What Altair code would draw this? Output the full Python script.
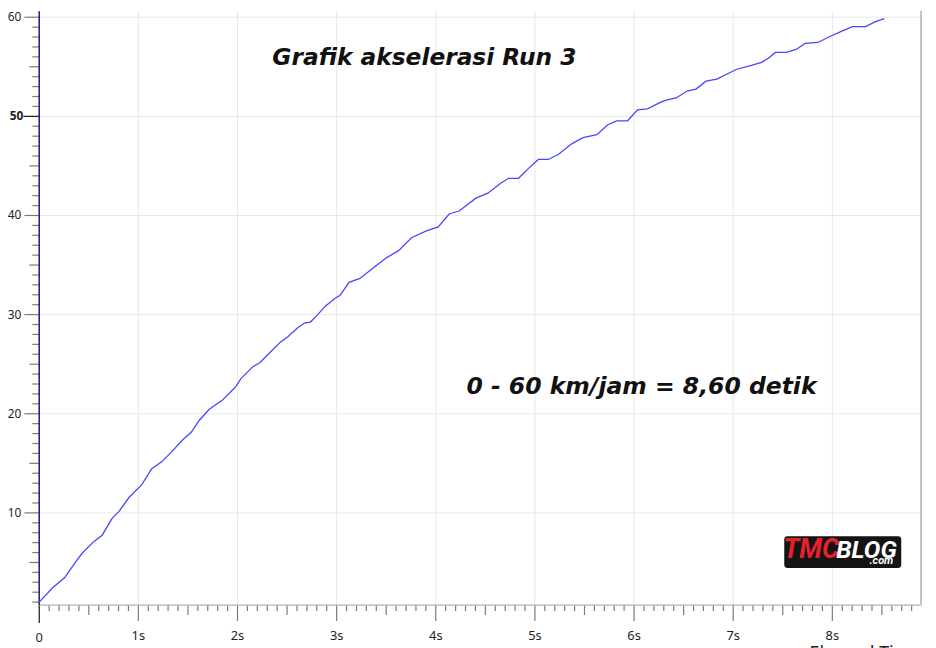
import altair as alt
import pandas as pd

# ---- data ----
t_sec = [0, 0.14, 0.26, 0.38, 0.44, 0.56, 0.64, 0.74, 0.81, 0.91, 1.04, 1.14, 1.24, 1.34, 1.44,
         1.54, 1.62, 1.72, 1.85, 1.98, 2.04, 2.16, 2.23, 2.34, 2.44, 2.51, 2.61, 2.68, 2.74, 2.81,
         2.89, 2.99, 3.04, 3.13, 3.24, 3.38, 3.51, 3.63, 3.76, 3.91, 4.03, 4.14, 4.24, 4.41, 4.53,
         4.66, 4.74, 4.84, 4.93, 5.04, 5.14, 5.24, 5.38, 5.49, 5.63, 5.74, 5.83, 5.94, 6.04, 6.14,
         6.28, 6.34, 6.43, 6.54, 6.63, 6.73, 6.84, 6.98, 7.04, 7.19, 7.29, 7.36, 7.43, 7.54, 7.64,
         7.73, 7.86, 7.98, 8.09, 8.21, 8.34, 8.44, 8.53]
speed_kmh = [0.9, 2.4, 3.4, 5.1, 5.9, 7.1, 7.7, 9.4, 10.1, 11.5, 12.8, 14.4, 15.1, 16.1, 17.2,
             18.1, 19.3, 20.4, 21.3, 22.6, 23.5, 24.7, 25.1, 26.2, 27.2, 27.7, 28.6, 29.1, 29.2, 29.9,
             30.8, 31.6, 31.9, 33.2, 33.6, 34.7, 35.7, 36.4, 37.7, 38.4, 38.8, 40.1, 40.4, 41.7, 42.2,
             43.2, 43.7, 43.7, 44.6, 45.6, 45.6, 46.1, 47.2, 47.8, 48.1, 49.1, 49.5, 49.5, 50.6, 50.7,
             51.4, 51.6, 51.8, 52.5, 52.7, 53.5, 53.7, 54.4, 54.7, 55.1, 55.4, 55.8, 56.4, 56.4, 56.7,
             57.3, 57.4, 58.0, 58.5, 59.0, 59.0, 59.5, 59.8]

x_tick_values = [round(i * 0.1, 1) for i in range(0, 89)]
y_tick_values = list(range(1, 61))

ann_text = ["Grafik akselerasi Run 3", "0 - 60 km/jam = 8,60 detik"]
ann_t = [3.89, 6.08]
ann_v = [55.8, 22.6]
ann_size = [23.5, 23.7]

logo_box_t = [7.52]
logo_box_t2 = [8.70]
logo_box_v = [7.6]
logo_box_v2 = [4.4]
logo_text = ["TMC", "BLOG", ".com"]
logo_t = [7.79, 8.35, 8.50]
logo_v = [6.2, 6.25, 5.05]
logo_color = ["#e8202a", "#ffffff", "#ffffff"]
logo_size = [27, 25, 11]

X_DOMAIN = [0, 8.9]
Y_DOMAIN = [0.7, 60.6]
X_END = [8.9]

df = pd.DataFrame({"t": t_sec, "v": speed_kmh})
ann = pd.DataFrame({"text": ann_text, "t": ann_t, "v": ann_v, "s": ann_size})
box = pd.DataFrame({"t": logo_box_t, "t2": logo_box_t2, "v": logo_box_v, "v2": logo_box_v2})
logo = pd.DataFrame({"text": logo_text, "t": logo_t, "v": logo_v, "c": logo_color, "s": logo_size})
edge = pd.DataFrame({"t": X_END})

FONT = "Noto Sans"

is_int = "abs(datum.value - round(datum.value)) < 0.001"
is_half = "abs(datum.value * 2 - round(datum.value * 2)) < 0.001"

x_axis = alt.Axis(
    values=x_tick_values,
    labelExpr=f"{is_int} ? (datum.value == 0 ? '0' : format(datum.value, 'd') + 's') : ''",
    labelOverlap=False,
    labelFlush=False,
    labelFont=FONT,
    labelFontSize=13,
    labelColor="#1e1e1e",
    labelPadding=9,
    tickSize={"condition": [{"test": "datum.value == 0", "value": 18},
                            {"test": is_int, "value": 16},
                            {"test": is_half, "value": 10}], "value": 6},
    tickColor={"condition": {"test": "datum.value == 0", "value": "#111111"}, "value": "#7a7a7a"},
    tickWidth=1.2,
    domainColor="#b0b0b0",
    domainWidth=1.2,
    grid=True,
    gridColor="#e8e8e8",
    gridOpacity={"condition": {"test": is_int, "value": 1}, "value": 0},
    title="Elapsed Time",
    titleFont=FONT,
    titleFontSize=18,
    titleFontWeight="normal",
    titleColor="#1e1e1e",
    titleX=777,
    titleY=40,
    titleAlign="left",
    titleBaseline="top",
)

y_axis = alt.Axis(
    values=y_tick_values,
    labelExpr="datum.value % 10 == 0 ? datum.value : ''",
    labelOverlap=False,
    labelFlush=False,
    labelFont=FONT,
    labelFontSize=12,
    labelFontWeight={"condition": {"test": "datum.value == 50", "value": "bold"}, "value": "normal"},
    labelColor="#1e1e1e",
    labelPadding={"condition": {"test": "datum.value == 50", "value": 0}, "value": 3},
    tickSize={"condition": [{"test": "datum.value == 50", "value": 16},
                            {"test": "datum.value % 10 == 0", "value": 15},
                            {"test": "datum.value % 5 == 0", "value": 10}], "value": 7},
    tickColor={"condition": {"test": "datum.value == 50", "value": "#111111"}, "value": "#7a7a7a"},
    tickWidth=1.2,
    domainColor="#1c1c7a",
    domainWidth=1.5,
    grid=True,
    gridColor="#e8e8e8",
    gridOpacity={"condition": {"test": "datum.value % 10 == 0", "value": 1}, "value": 0},
    title=None,
)

xs = alt.Scale(domain=X_DOMAIN, nice=False, zero=False)
ys = alt.Scale(domain=Y_DOMAIN, nice=False, zero=False)


def X(field="t:Q"):
    return alt.X(field, scale=xs, axis=x_axis)


def Y(field="v:Q"):
    return alt.Y(field, scale=ys, axis=y_axis)


line = alt.Chart(df).mark_line(color="#4646ff", strokeWidth=1.3, clip=True).encode(
    x=X(), y=Y(),
)

right_edge = alt.Chart(edge).mark_rule(color="#9a9a9a", strokeWidth=1.2).encode(
    x=X(),
)

texts = alt.Chart(ann).mark_text(
    font="DejaVu Sans", fontWeight="bold", fontStyle="italic", color="#111111",
    align="center", baseline="middle",
).encode(
    x=X(), y=Y(), text="text:N",
    size=alt.Size("s:Q", scale=None),
)

logo_bg = alt.Chart(box).mark_rect(color="#141414", cornerRadius=3).encode(
    x=X(), x2="t2:Q", y=Y(), y2="v2:Q"
)

logo_txt = alt.Chart(logo).mark_text(
    font="Roboto", fontWeight="bold", fontStyle="italic", align="center", baseline="middle",
).encode(
    x=X(), y=Y(), text="text:N",
    color=alt.Color("c:N", scale=None),
    size=alt.Size("s:Q", scale=None),
)

chart = alt.layer(line, right_edge, texts, logo_bg, logo_txt).properties(
    width=890,
    height=599,
    autosize=alt.AutoSizeParams(type="none"),
    padding={"left": 31, "top": 0, "right": 7, "bottom": 41},
    background="#ffffff",
).configure_view(stroke=None)

chart.save("out.html", embed_options={"renderer": "svg", "actions": False})
